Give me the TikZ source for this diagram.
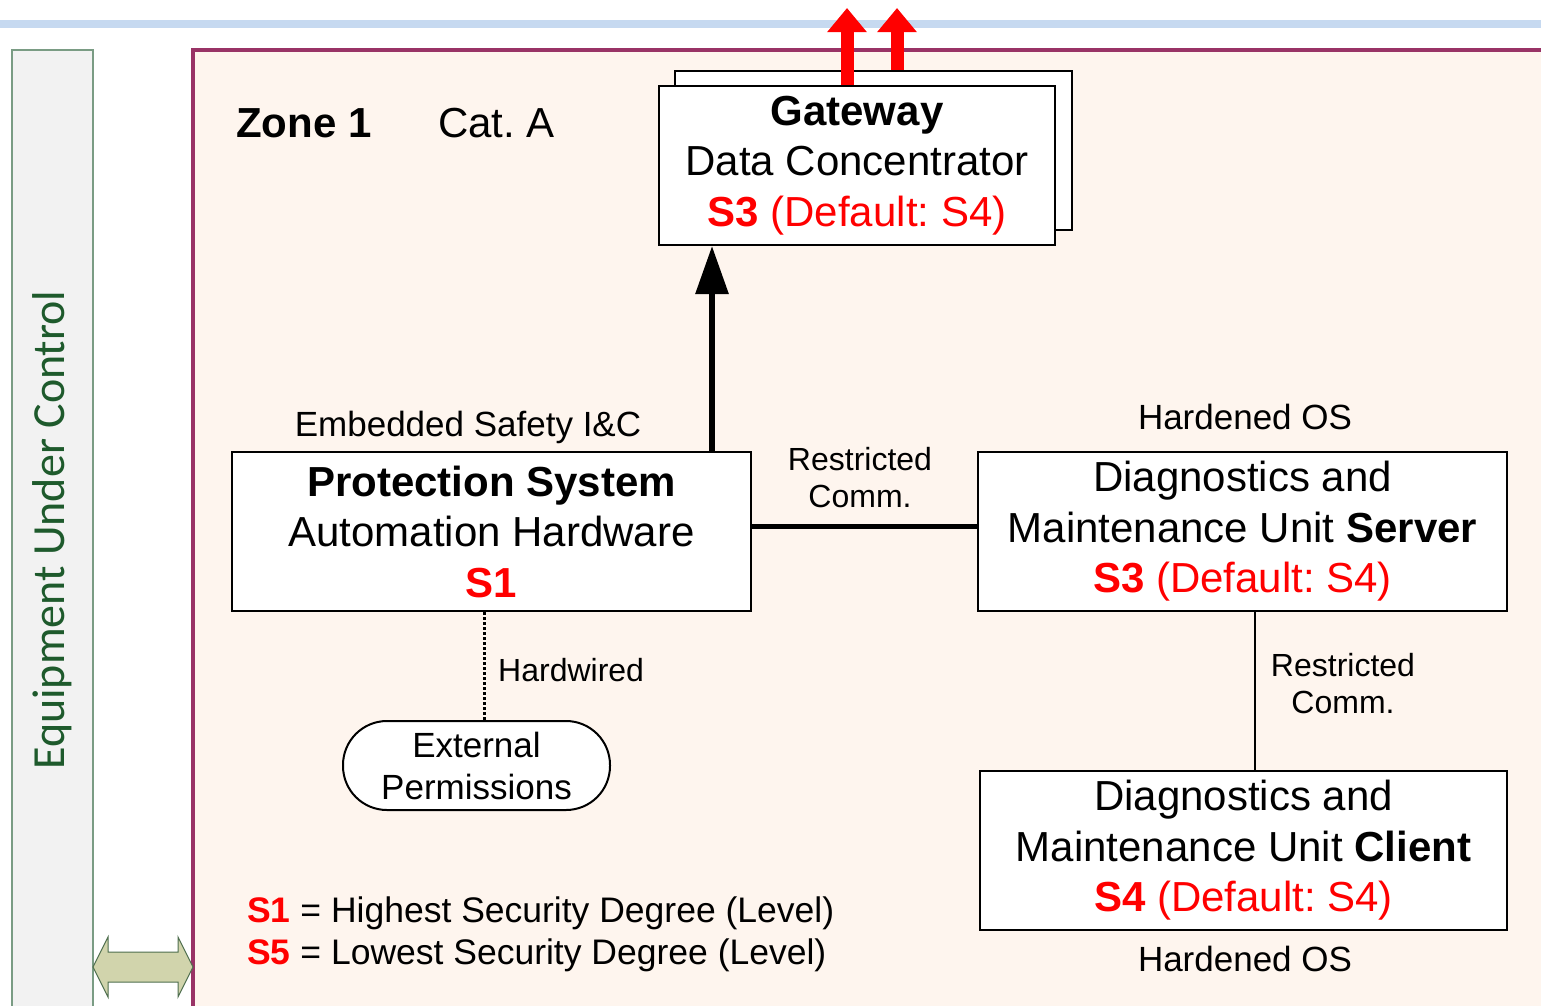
\documentclass[tikz,border=0pt]{standalone}
\usepackage{xcolor}
\usepackage{fontspec}
\setmainfont{Liberation Sans}
\newfontfamily\eucfont{Carlito}
\usepackage{tikz}
\usetikzlibrary{positioning, arrows.meta}
\definecolor{zoneborder}{HTML}{993366}
\definecolor{zonefill}{HTML}{FEF5EE}
\definecolor{topline}{HTML}{C6D9F0}
\definecolor{eucgreen}{HTML}{1E5A2C}
\definecolor{eucborder}{HTML}{7A9C84}
\definecolor{linkfill}{HTML}{D1D4AC}
\definecolor{linkborder}{HTML}{4E6E4E}
\newcommand{\boxfont}{\fontsize{42}{50.5}\selectfont}
\newcommand{\lblfont}{\fontsize{35}{42}\selectfont}
\newcommand{\commfont}{\fontsize{32}{37}\selectfont}
\frenchspacing

\begin{document}
\begin{tikzpicture}[
    x=1pt, y=-1pt,
    unit/.style={
        rectangle,
        draw=black,
        fill=white,
        line width=2pt,
        align=center,
        inner sep=0pt,
        font=\boxfont,
        minimum height=159pt,
    },
    perm/.style={unit, rounded corners=44pt, font=\lblfont, minimum height=89pt},
    lbl/.style={inner sep=0pt, font=\lblfont},
    comm/.style={inner sep=0pt, font=\commfont, align=center},
    upl/.style={-{Triangle[length=24pt, width=38pt]}, line width=13pt, color=red},
    flow/.style={-{Triangle[length=48pt, width=32pt]}, line width=6pt},
]
\useasboundingbox (0,0) rectangle (1541,1005);
\clip (0,0) rectangle (1541,1005);

\draw[topline, line width=8pt] (0,24) -- (1541,24);
\draw[eucborder, fill=black!5, line width=1.2pt] (12,50) rectangle (93,1020);
\node[rotate=90, inner sep=0pt, font=\eucfont\fontsize{46}{50}\selectfont, color=eucgreen] (euc) at (52,530) {Equipment Under Control};
\draw[zoneborder, fill=zonefill, line width=3.5pt] (193,50) rectangle (1570,1030);
\draw[linkborder, fill=linkfill, line width=1pt]
  (93,967) -- (108,937) -- (108,952) -- (178,952) -- (178,937) -- (193,967)
  -- (178,997) -- (178,982) -- (108,982) -- (108,997) -- cycle;

\node[inner sep=0pt, font=\boxfont\bfseries, anchor=west] (zone) at (236,123) {Zone 1};
\node[inner sep=0pt, font=\boxfont, anchor=west] (cat) at (438,123) {Cat. A};

\node[unit, minimum width=397pt] (gwback) at (873.5,150) {};
\coordinate (out1) at (847,8);
\coordinate (out2) at (897,8);
\draw[upl] (gwback.north -| out2) -- (out2);
\node[unit, minimum width=396pt] (gw) at (857,165.5) {%
  \textbf{Gateway}\\
  Data Concentrator\\
  \textcolor{red}{\textbf{S3} (Default: S4)}%
};
\draw[upl] (gw.north -| out1) -- (out1);

\node[unit, minimum width=519pt] (prot) at (491.5,531.5) {%
  \textbf{Protection System}\\
  Automation Hardware\\
  \textcolor{red}{\textbf{S1}}%
};
\node[unit, minimum width=529pt] (srv) at (1242.5,531.5) {%
  Diagnostics and\\
  Maintenance Unit \textbf{Server}\\
  \textcolor{red}{\textbf{S3} (Default: S4)}%
};
\node[unit, minimum width=527pt] (cli) at (1243.5,850.5) {%
  Diagnostics and\\
  Maintenance Unit \textbf{Client}\\
  \textcolor{red}{\textbf{S4} (Default: S4)}%
};
\node[perm, minimum width=267pt] (ext) at (476.5,765.5) {External\\Permissions};

\node[lbl, anchor=base] (emb) at (468,436) {Embedded Safety I\&C};
\node[lbl, anchor=base] (hos1) at (1245,429) {Hardened OS};
\node[lbl, anchor=base] (hos2) at (1245,971) {Hardened OS};
\node[comm] (rc1) at (860,478) {Restricted\\Comm.};
\node[comm] (rc2) at (1343,684) {Restricted\\Comm.};
\node[comm, anchor=west] (hw) at (498,670) {Hardwired};
\node[lbl, anchor=west, align=left, font=\fontsize{35.5}{42}\selectfont] (legend) at (247,934) {%
  \textcolor{red}{\textbf{S1}} = Highest Security Degree (Level)\\
  \textcolor{red}{\textbf{S5}} = Lowest Security Degree (Level)%
};

\draw[flow] ([xshift=-40pt]prot.north east) -- ([xshift=-40pt]prot.north east |- gw.south);
\draw[line width=5pt] ([yshift=5pt]prot.east) -- ([yshift=5pt]srv.west);
\draw[line width=2pt] ([xshift=12pt]srv.south) -- ([xshift=12pt]srv.south |- cli.north);
\draw[line width=2.5pt, dash pattern=on 2.5pt off 2.5pt] ([xshift=8pt]ext.north |- prot.south) -- ([xshift=8pt]ext.north);
\end{tikzpicture}
\end{document}
